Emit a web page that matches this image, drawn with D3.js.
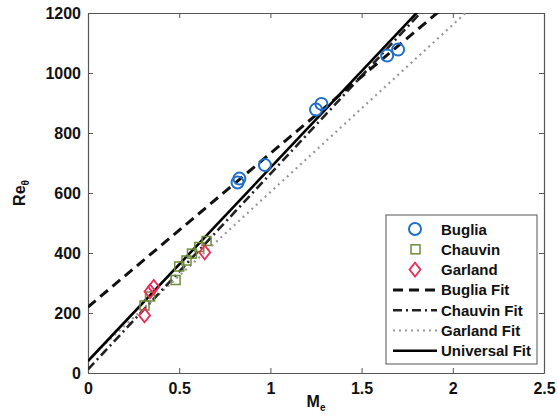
<!DOCTYPE html>
<html><head><meta charset="utf-8">
<script src="https://cdn.jsdelivr.net/npm/d3@7"></script>
<style>body{margin:0;background:#fff}svg{display:block}text{font-family:"Liberation Sans",Arial,sans-serif}</style>
</head><body>
<script>
// Data
const bugliaX = [0.82, 0.83, 0.97, 1.25, 1.28, 1.64, 1.70];
const bugliaY = [635, 648, 693, 878, 897, 1058, 1078];
const chauvinX = [0.31, 0.34, 0.48, 0.50, 0.54, 0.57, 0.61, 0.65];
const chauvinY = [225, 255, 310, 355, 375, 398, 420, 440];
const garlandX = [0.31, 0.34, 0.36, 0.64];
const garlandY = [192, 272, 287, 402];
const fitNames = ["Buglia Fit", "Chauvin Fit", "Garland Fit", "Universal Fit"];
const fitIntercepts = [220, 12, 45, 40];
const fitSlopes = [512, 652, 558, 644];
const xTicks = [0, 0.5, 1, 1.5, 2, 2.5];
const xTickLabels = ["0", "0.5", "1", "1.5", "2", "2.5"];
const yTicks = [0, 200, 400, 600, 800, 1000, 1200];

const W = 558, H = 419;
const m = {l: 88, r: 14, t: 13, b: 46};
const svg = d3.select("body").append("svg").attr("width", W).attr("height", H);
const x = d3.scaleLinear().domain([0, 2.5]).range([m.l, W - m.r]);
const y = d3.scaleLinear().domain([0, 1200]).range([H - m.b, m.t]);

svg.append("clipPath").attr("id", "c").append("rect")
  .attr("x", x(0)).attr("y", y(1200)).attr("width", x(2.5) - x(0)).attr("height", y(0) - y(1200));

// axes
const axisCol = "#555";
const gx = svg.append("g").attr("transform", `translate(0,${y(0)})`)
  .call(d3.axisBottom(x).tickValues(xTicks).tickFormat((d, i) => xTickLabels[i]).tickSizeInner(-5).tickSizeOuter(0).tickPadding(10));
const gxt = svg.append("g").attr("transform", `translate(0,${y(1200)})`)
  .call(d3.axisTop(x).tickValues(xTicks).tickFormat("").tickSizeInner(-5).tickSizeOuter(0));
const gy = svg.append("g").attr("transform", `translate(${x(0)},0)`)
  .call(d3.axisLeft(y).tickValues(yTicks).tickFormat(d3.format("d")).tickSizeInner(-5).tickSizeOuter(0).tickPadding(7));
const gyr = svg.append("g").attr("transform", `translate(${x(2.5)},0)`)
  .call(d3.axisRight(y).tickValues(yTicks).tickFormat("").tickSizeInner(-5).tickSizeOuter(0));
[gx, gxt, gy, gyr].forEach(g => {
  g.select(".domain").attr("stroke", axisCol).attr("stroke-width", 1.2);
  g.selectAll(".tick line").attr("stroke", axisCol);
  g.selectAll("text").attr("font-size", 16).attr("font-weight", "bold").attr("fill", "#111");
});

// fit lines
const styles = [
  {dash: "10,6", w: 3, c: "#111"},
  {dash: "9,4,2,4", w: 2.6, c: "#222"},
  {dash: "2,4", w: 2.2, c: "#9a9a9a"},
  {dash: null, w: 2.6, c: "#000"}
];
const plot = svg.append("g").attr("clip-path", "url(#c)");
const line = d3.line().x(d => x(d[0])).y(d => y(d[1]));
[2, 1, 0, 3].forEach(i => {
  const xs = [0, 2.5];
  plot.append("path").datum(xs.map(v => [v, fitIntercepts[i] + fitSlopes[i] * v]))
    .attr("d", line).attr("fill", "none").attr("stroke", styles[i].c)
    .attr("stroke-width", styles[i].w).attr("stroke-dasharray", styles[i].dash);
});

// markers
const blue = "#1f6fc8", green = "#6e8c3c", red = "#ea2e58";
plot.selectAll(".b").data(bugliaX).enter().append("circle")
  .attr("cx", d => x(d)).attr("cy", (d, i) => y(bugliaY[i])).attr("r", 6)
  .attr("fill", "none").attr("stroke", blue).attr("stroke-width", 2);
plot.selectAll(".ch").data(chauvinX).enter().append("rect")
  .attr("x", d => x(d) - 4.5).attr("y", (d, i) => y(chauvinY[i]) - 4.5).attr("width", 9).attr("height", 9)
  .attr("fill", "none").attr("stroke", green).attr("stroke-width", 1.5);
plot.selectAll(".g").data(garlandX).enter().append("path")
  .attr("d", (d, i) => { const cx = x(d), cy = y(garlandY[i]); return `M${cx},${cy-7}L${cx+5.5},${cy}L${cx},${cy+7}L${cx-5.5},${cy}Z`; })
  .attr("fill", "none").attr("stroke", red).attr("stroke-width", 1.8);

// axis labels
const yl = svg.append("text").attr("transform", "translate(25,193) rotate(-90)")
  .attr("font-size", 16).attr("font-weight", "bold").attr("fill", "#111").attr("text-anchor", "middle");
yl.append("tspan").text("Re");
yl.append("tspan").attr("font-size", 10).attr("dy", 4).text("θ");
const xl = svg.append("text").attr("x", 316).attr("y", 407)
  .attr("font-size", 16).attr("font-weight", "bold").attr("fill", "#111").attr("text-anchor", "middle");
xl.append("tspan").text("M");
xl.append("tspan").attr("font-size", 10).attr("dy", 4).text("e");

// legend
const lg = svg.append("g");
lg.append("rect").attr("x", 386).attr("y", 215).attr("width", 151).attr("height", 149)
  .attr("fill", "#fff").attr("stroke", "#555").attr("stroke-width", 1);
const names = ["Buglia", "Chauvin", "Garland"].concat(fitNames);
names.forEach((n, i) => {
  const cy = 229 + i * 20.3;
  if (i === 0) lg.append("circle").attr("cx", 415).attr("cy", cy).attr("r", 6).attr("fill", "none").attr("stroke", blue).attr("stroke-width", 2);
  else if (i === 1) lg.append("rect").attr("x", 411).attr("y", cy - 4.5).attr("width", 9).attr("height", 9).attr("fill", "none").attr("stroke", green).attr("stroke-width", 1.5);
  else if (i === 2) lg.append("path").attr("d", `M415,${cy-7}L420.5,${cy}L415,${cy+7}L409.5,${cy}Z`).attr("fill", "none").attr("stroke", red).attr("stroke-width", 1.8);
  else {
    const s = styles[i - 3];
    lg.append("line").attr("x1", 393).attr("x2", 437).attr("y1", cy).attr("y2", cy)
      .attr("stroke", s.c).attr("stroke-width", s.w).attr("stroke-dasharray", s.dash);
  }
  lg.append("text").attr("x", 441).attr("y", cy + 5.5).attr("font-size", 15).attr("font-weight", "bold").attr("fill", "#111").text(n);
});
</script>
</body></html>
